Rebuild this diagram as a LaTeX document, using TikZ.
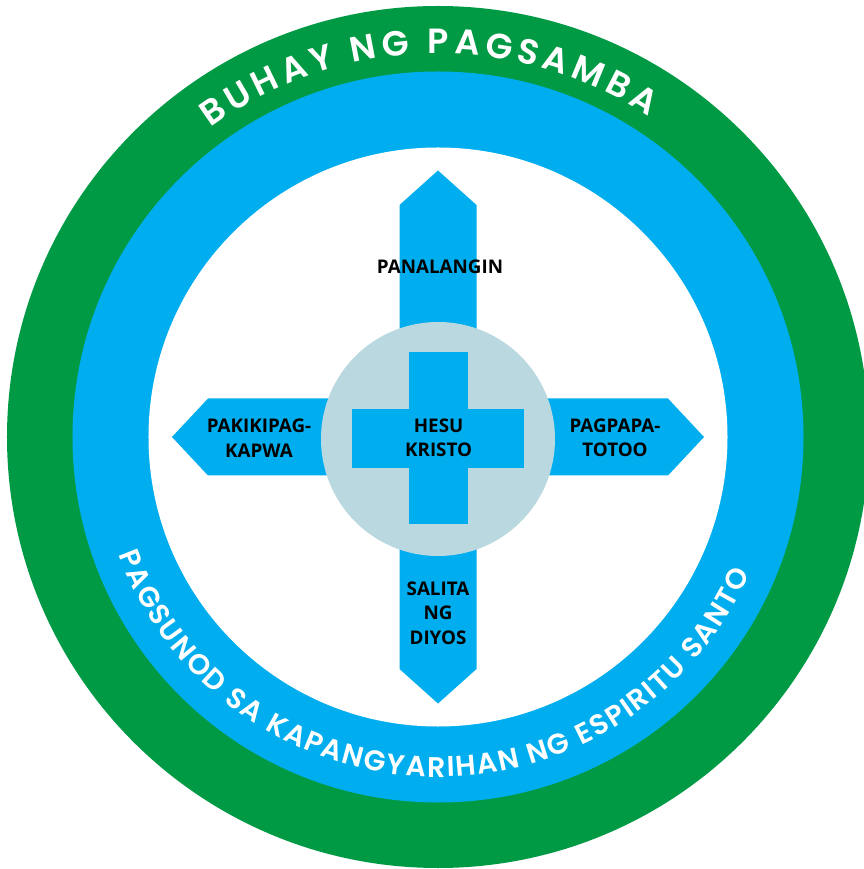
\documentclass[tikz,border=0pt]{standalone}
\usepackage{fontspec}
\usetikzlibrary{decorations.text}
\usetikzlibrary{scopes}

\newfontfamily\ringfont{Poppins}[UprightFont={* SemiBold}]
\newfontfamily\labelfont{Open Sans}
\newcommand\toptextfont{\ringfont\fontsize{35}{36}\selectfont}
\newcommand\bottomtextfont{\ringfont\fontsize{28.5}{29}\selectfont}

\definecolor{ringgreen}{RGB}{0,154,68}
\definecolor{ringblue}{RGB}{0,174,239}
\definecolor{hubgray}{RGB}{186,216,224}

\begin{document}
\begin{tikzpicture}[
    x=1pt,y=1pt,
    band/.style={draw=none},
    arm/.style={fill=ringblue,draw=none},
    hub/.style={fill=hubgray,draw=none},
    word/.style={font=\labelfont\bfseries\fontsize{18.8}{24.4}\selectfont,
        align=center,inner sep=0pt,text=black},
    ringtext/.style={decorate,decoration={text along path,
        text align=fit to path,text color=white}},
]
    \useasboundingbox (-438,-432) rectangle (425,437);

    % Rings
    \fill[band,ringgreen] (0,0) circle (431);
    \fill[band,ringblue] (0,0) circle (365.5);
    \fill[band,white] (0,0) circle (289.5);

    % Arrow cross
    \fill[arm] (-38.5,232) -- (0,266.5) -- (38.5,232) -- (38.5,38.5)
        -- (230,38.5) -- (266,0) -- (230,-38.5) -- (38.5,-38.5)
        -- (38.5,-232) -- (0,-266.5) -- (-38.5,-232) -- (-38.5,-38.5)
        -- (-230,-38.5) -- (-266,0) -- (-230,38.5) -- (-38.5,38.5) -- cycle;

    % Centre
    \fill[hub] (0,-2) circle (117);
    \fill[arm] (-29.5,-87.5) rectangle (29.5,84.5);
    \fill[arm] (-86,-31) rectangle (86,28);

    % Labels
    {[word]
        \node (panalangin) at (2,170) {PANALANGIN};
        \node (hesukristo) at (0.6,-1) {HESU\\KRISTO};
        \node (kapwa) at (-179,-1) {PAKIKIPAG-\\KAPWA};
        \node (patotoo) at (177,-1) {PAGPAPA-\\TOTOO};
        \node (salita) at (0,-176) {SALITA\\NG\\DIYOS};
    }

    % Ring texts
    \path[ringtext,decoration={text={|\toptextfont|BUHAY NG PAGSAMBA}}]
        (126.3:383.5) arc[start angle=126.3,end angle=56.7,radius=383.5];
    \path[ringtext,decoration={text={|\bottomtextfont|PAGSUNOD SA KAPANGYARIHAN NG ESPIRITU SANTO}}]
        (200.2:340) arc[start angle=200.2,end angle=336.4,radius=340];
\end{tikzpicture}
\end{document}
